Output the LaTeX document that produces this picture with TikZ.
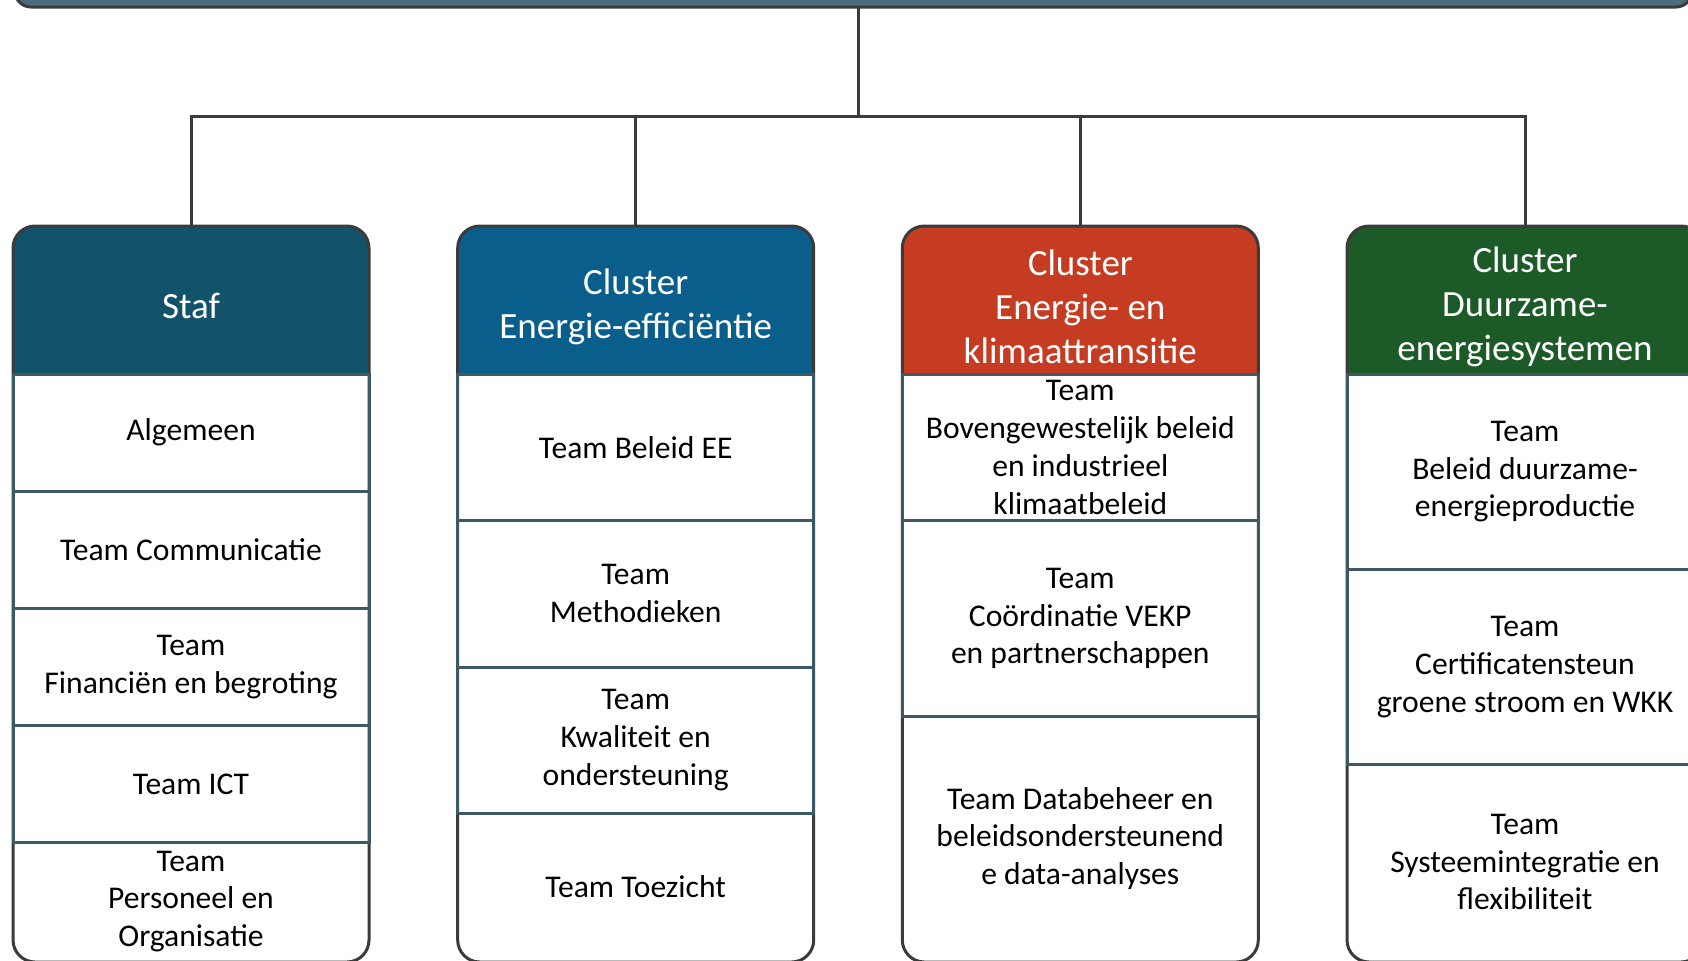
\documentclass[tikz,border=0pt]{standalone}
\usepackage{fontspec}
\setmainfont{Carlito}
\usetikzlibrary{positioning,backgrounds}

\definecolor{stafblue}{HTML}{13536A}
\definecolor{eeblue}{HTML}{0A5E8C}
\definecolor{ktred}{HTML}{C63C22}
\definecolor{degreen}{HTML}{1C5A27}
\definecolor{topgrey}{HTML}{4B6C7E}
\definecolor{linegrey}{HTML}{3B3B3B}
\definecolor{rowline}{HTML}{3D5966}

\begin{document}
\begin{tikzpicture}[x=0.5pt,y=-0.5pt,
    conn/.style={draw=linegrey,line width=1.5pt},
    head/.style={minimum width=178pt,minimum height=74pt,outer sep=0pt},
    headtext/.style={text=white,align=center,yshift=-3.2pt,
      font=\fontsize{18.5}{22}\selectfont},
    team/.style={draw=rowline,line width=1.5pt,minimum width=178pt,outer sep=0pt,
      align=center,font=\fontsize{15.8}{18.85}\selectfont},
    lastteam/.style={team,draw=none},
    outline/.style={draw=linegrey,line width=1.5pt,rounded corners=11pt},
    node distance=0pt]

  \useasboundingbox (0,0) rectangle (1688,960);
  \clip (0,0) rectangle (1688,960);

  % department (cut off at the top)
  \node[draw=linegrey,fill=topgrey,line width=1.5pt,rounded corners=8pt,
    minimum width=838.5pt,minimum height=33pt,outer sep=0pt] (dept) at (853.5,-26) {};
  \coordinate (bus) at (858,116);

  % headers
  \node[head,label={[headtext]center:Staf}] (staf) at (191,300) {};
  \node[head,label={[headtext]center:{Cluster\\Energie-efficiëntie}}] (clEE) at (635.7,300) {};
  \node[head,label={[headtext]center:{Cluster\\Energie- en\\klimaattransitie}}] (clKT) at (1080.3,300) {};
  \node[head,label={[headtext]center:{Cluster\\Duurzame-\\energiesystemen}}] (clDE) at (1525,300) {};

  \begin{pgfonlayer}{background}
    \foreach \hd/\col in {staf/stafblue,clEE/eeblue,clKT/ktred,clDE/degreen} {
      \fill[white,rounded corners=11pt] (\hd.north west) rectangle ([yshift=-294pt]\hd.south east);
      \begin{scope}
        \clip[rounded corners=11pt] (\hd.north west) rectangle ([yshift=-294pt]\hd.south east);
        \fill[\col] (\hd.north west) rectangle (\hd.south east);
      \end{scope}
      \draw[outline] (\hd.north west) rectangle ([yshift=-294pt]\hd.south east);
    }
  \end{pgfonlayer}

  % Staf
  \node[team,minimum height=58.6pt,below=of staf] (alg) {Algemeen};
  \node[team,minimum height=58.6pt,below=of alg] (comm) {Team Communicatie};
  \node[team,minimum height=58.6pt,below=of comm] (fin) {Team\\Financiën en begroting};
  \node[team,minimum height=58.6pt,below=of fin] (ict) {Team ICT};
  \node[lastteam,minimum height=58.6pt,below=of ict] (po) {Team\\Personeel en\\Organisatie};

  % Energie-efficientie
  \node[team,minimum height=73.25pt,below=of clEE] (beleidEE) {Team Beleid EE};
  \node[team,minimum height=73.25pt,below=of beleidEE] (meth) {Team\\Methodieken};
  \node[team,minimum height=73.25pt,below=of meth] (kwal) {Team\\Kwaliteit en\\ondersteuning};
  \node[lastteam,minimum height=73.25pt,below=of kwal] (toez) {Team Toezicht};

  % Energie- en klimaattransitie
  \node[team,minimum height=73.25pt,below=of clKT] (boven) {Team\\Bovengewestelijk beleid\\en industrieel\\klimaatbeleid};
  \node[team,minimum height=97.65pt,below=of boven] (vekp) {Team\\Coördinatie VEKP\\en partnerschappen};
  \node[lastteam,minimum height=122.1pt,below=of vekp] (data) {Team Databeheer en\\beleidsondersteunend\\e data-analyses};

  % Duurzame-energiesystemen
  \node[team,minimum height=97.65pt,below=of clDE] (prod) {Team\\Beleid duurzame-\\energieproductie};
  \node[team,minimum height=97.65pt,below=of prod] (cert) {Team\\Certificatensteun\\groene stroom en WKK};
  \node[lastteam,minimum height=97.65pt,below=of cert] (flex) {Team\\Systeemintegratie en\\flexibiliteit};

  % connectors
  \draw[conn] (dept.south -| bus) -- (bus);
  \draw[conn] (staf.north) |- (bus) -| (clDE.north);
  \draw[conn] (clEE.north) -- (clEE.north |- bus);
  \draw[conn] (clKT.north) -- (clKT.north |- bus);
\end{tikzpicture}
\end{document}
